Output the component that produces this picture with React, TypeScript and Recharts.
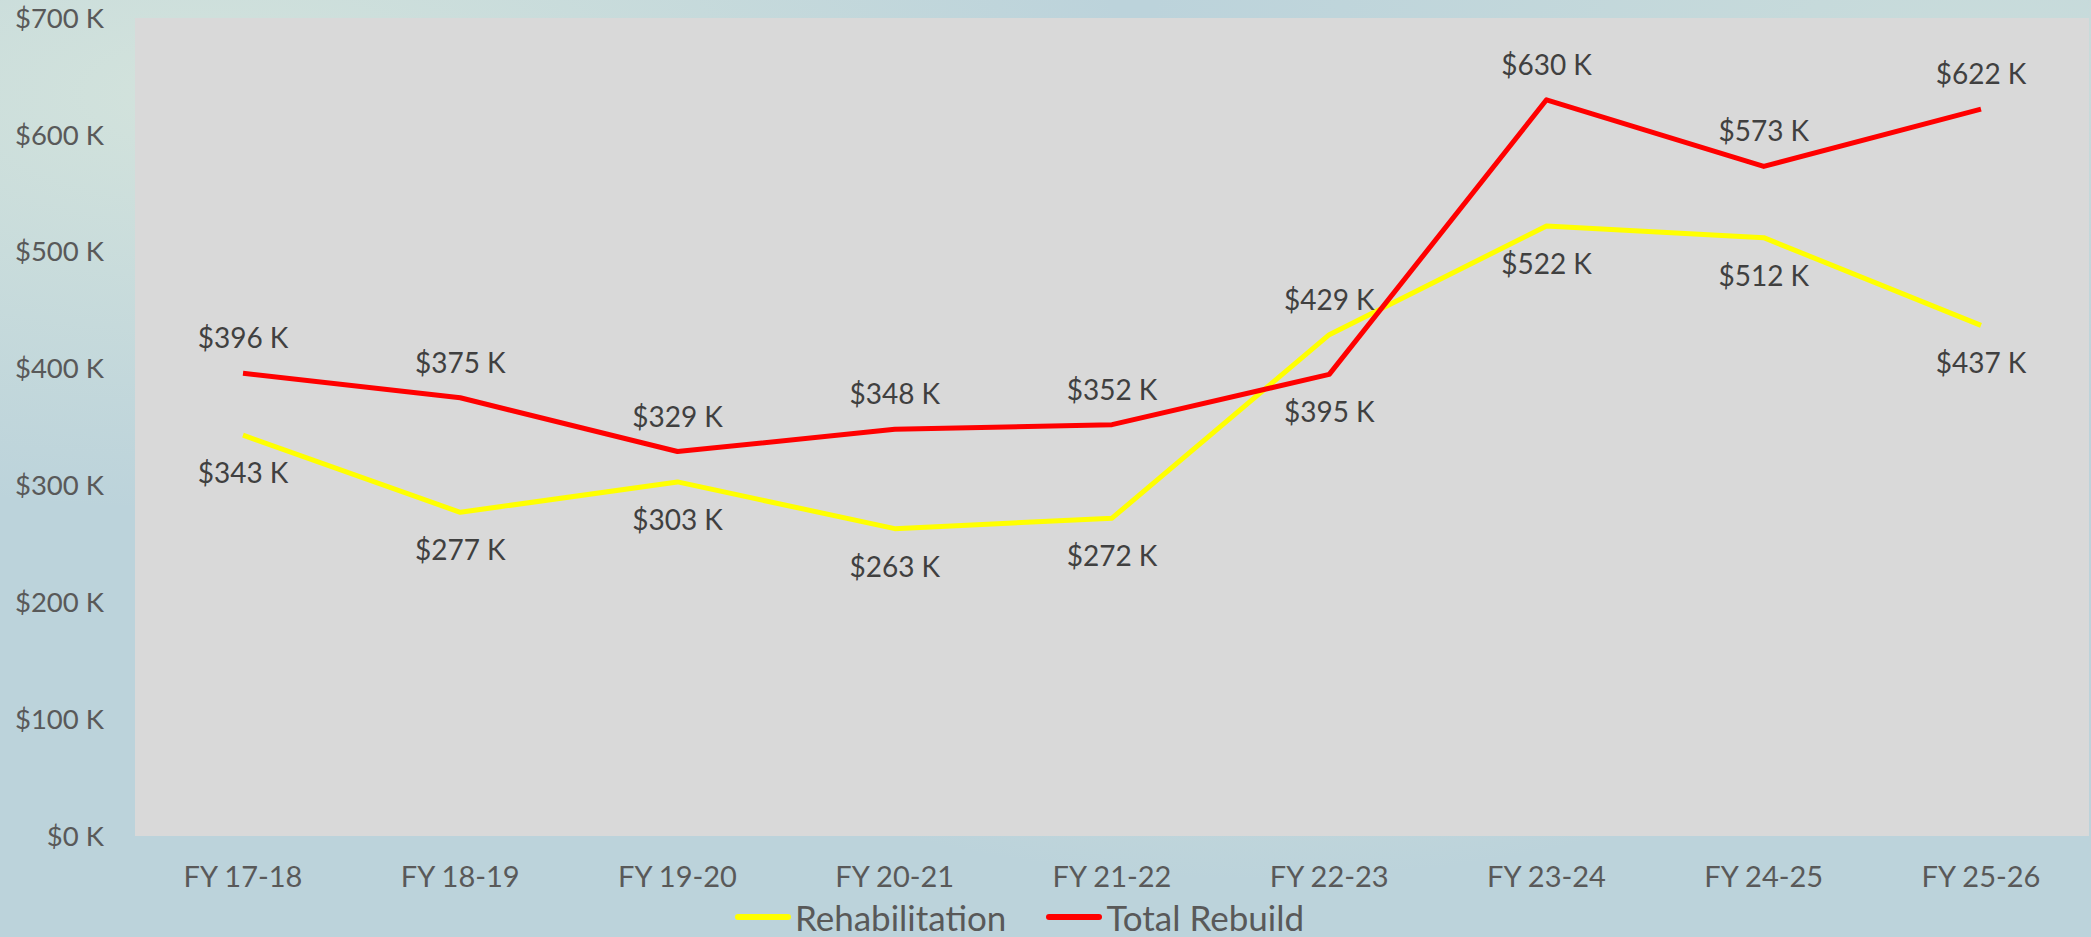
import { LineChart, Line, XAxis, YAxis, CartesianGrid, Legend, LabelList } from "recharts";

const years = ["FY 17-18", "FY 18-19", "FY 19-20", "FY 20-21", "FY 21-22", "FY 22-23", "FY 23-24", "FY 24-25", "FY 25-26"];
const rehabilitation = [343, 277, 303, 263, 272, 429, 522, 512, 437];
const totalRebuild = [396, 375, 329, 348, 352, 395, 630, 573, 622];
const yTicks = [0, 100, 200, 300, 400, 500, 600, 700];

const data = years.map((year, i) => ({
  year,
  rehab: rehabilitation[i],
  rebuild: totalRebuild[i],
}));

const FONT = "Lato, 'Noto Sans', sans-serif";
const fmt = (v: number) => `$${v} K`;

// label goes above the point for the higher series, below for the lower one
const makeLabel = (own: number[], other: number[]) => (props: any) => {
  const { x, y, index, value } = props;
  const above = own[index] >= other[index];
  return (
    <text
      x={x}
      y={above ? y - 36 : y + 37}
      textAnchor="middle"
      dominantBaseline="central"
      fill="#404040"
      fontSize={28}
      fontFamily={FONT}
    >
      {fmt(value)}
    </text>
  );
};

const LegendContent = (props: any) => {
  const { payload } = props;
  return (
    <div style={{ display: "flex", justifyContent: "center", alignItems: "center", marginLeft: -12, fontFamily: FONT }}>
      {(payload || []).map((p: any) => (
        <div key={p.value} style={{ display: "flex", alignItems: "center", marginRight: 40 }}>
          <div style={{ width: 56, height: 6, borderRadius: 3, background: p.color, marginRight: 4 }} />
          <span style={{ fontSize: 35, color: "#595959" }}>{p.value}</span>
        </div>
      ))}
    </div>
  );
};

const App = () => {
  return (
    <div
      style={{
        position: "absolute",
        left: 0,
        top: 0,
        width: 2091,
        height: 937,
        background:
          "radial-gradient(ellipse at 10% 10%, #d3e3dc 0%, rgba(211,227,220,0) 35%), radial-gradient(ellipse at 60% 60%, #cfe0da 0%, rgba(207,224,218,0) 40%), radial-gradient(ellipse at 95% 5%, #c9dcdb 0%, rgba(201,220,219,0) 30%), #bcd3db",
      }}
    >
      <LineChart width={2091} height={937} data={data} margin={{ top: 18, right: 2, bottom: 0, left: 0 }}>
        <CartesianGrid fill="#d9d9d9" horizontal={false} vertical={false} stroke="none" />
        <XAxis
          dataKey="year"
          axisLine={false}
          tickLine={false}
          tickSize={0}
          tickMargin={30}
          height={60}
          padding={{ left: 108, right: 108 }}
          tick={{ fill: "#595959", fontSize: 29, fontFamily: FONT }}
        />
        <YAxis
          domain={[0, 700]}
          ticks={yTicks}
          tickFormatter={fmt}
          axisLine={false}
          tickLine={false}
          tickSize={0}
          tickMargin={31}
          width={135}
          tick={{ fill: "#595959", fontSize: 27.5, fontFamily: FONT }}
        />
        <Legend verticalAlign="bottom" height={41} content={<LegendContent />} wrapperStyle={{ left: 0, width: 2091 }} />
        <Line
          type="linear"
          dataKey="rehab"
          name="Rehabilitation"
          stroke="#ffff00"
          strokeWidth={5}
          strokeLinejoin="round"
          dot={false}
          isAnimationActive={false}
        >
          <LabelList dataKey="rehab" content={makeLabel(rehabilitation, totalRebuild)} />
        </Line>
        <Line
          type="linear"
          dataKey="rebuild"
          name="Total Rebuild"
          stroke="#ff0000"
          strokeWidth={5}
          strokeLinejoin="round"
          dot={false}
          isAnimationActive={false}
        >
          <LabelList dataKey="rebuild" content={makeLabel(totalRebuild, rehabilitation)} />
        </Line>
      </LineChart>
    </div>
  );
};

export default App;
